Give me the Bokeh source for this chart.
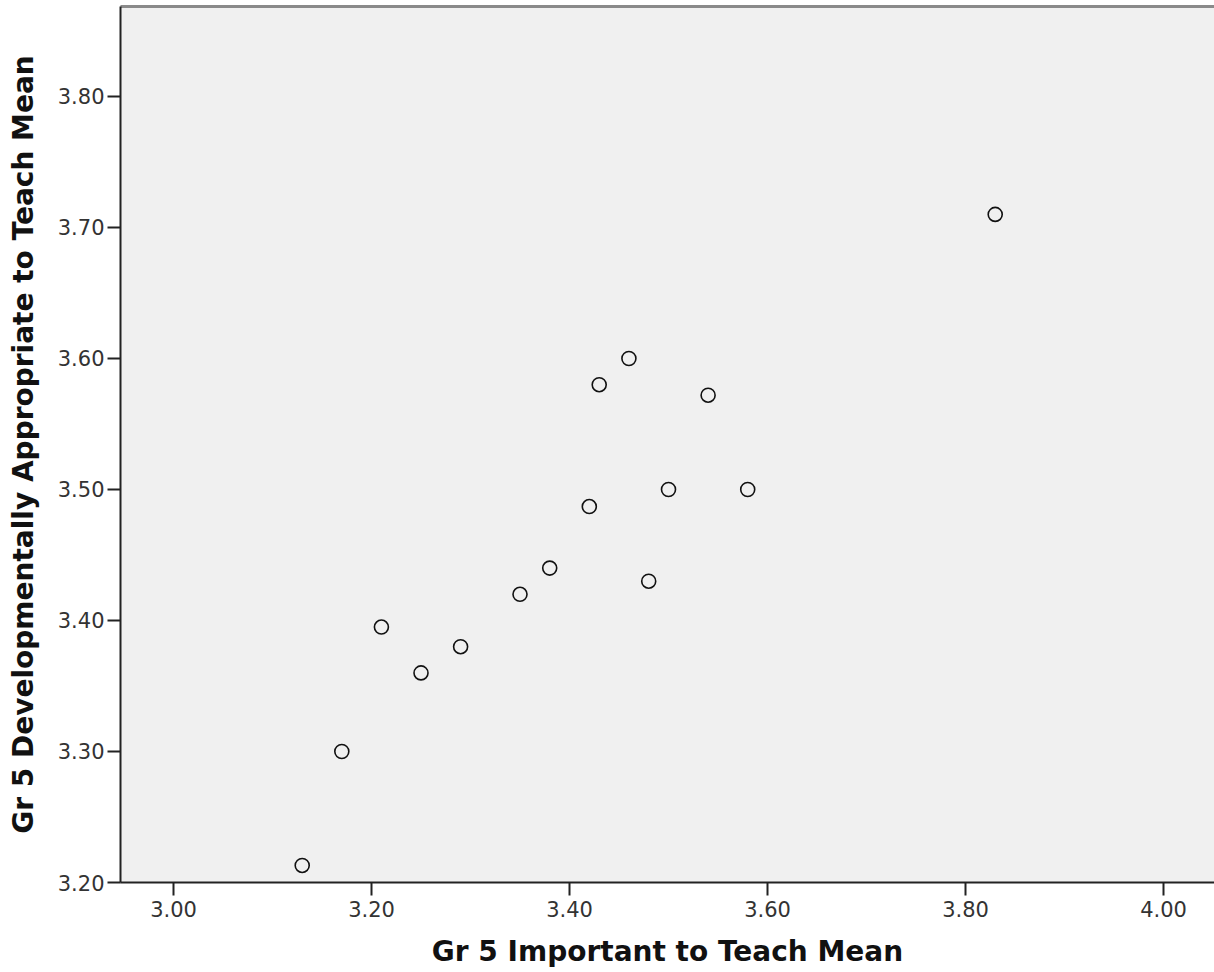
from bokeh.plotting import figure
from bokeh.models import FixedTicker, NumeralTickFormatter, LinearAxis, Range1d, ColumnDataSource
from bokeh.embed import file_html
from bokeh.resources import INLINE

# Data
important_mean = [3.13, 3.17, 3.21, 3.25, 3.29, 3.35, 3.38, 3.42, 3.43, 3.46, 3.48, 3.50, 3.54, 3.58, 3.83]
appropriate_mean = [3.213, 3.30, 3.395, 3.36, 3.38, 3.42, 3.44, 3.487, 3.58, 3.60, 3.43, 3.50, 3.572, 3.50, 3.71]
x_ticks = [3.00, 3.20, 3.40, 3.60, 3.80, 4.00]
y_ticks = [3.20, 3.30, 3.40, 3.50, 3.60, 3.70, 3.80]
x_title = "Gr 5 Important to Teach Mean"
y_title = "Gr 5 Developmentally Appropriate to Teach Mean"

src = ColumnDataSource(dict(x=important_mean, y=appropriate_mean))

p = figure(frame_width=1094, frame_height=876,
           x_range=Range1d(2.94646, 4.0515), y_range=Range1d(3.20, 3.8687),
           output_backend="svg", toolbar_location=None,
           min_border_left=120, min_border_right=0, min_border_top=6, min_border_bottom=0)

p.background_fill_color = "#f0f0f0"
p.border_fill_color = "white"
p.outline_line_color = None
p.grid.visible = False

p.scatter("x", "y", source=src, marker="circle", size=14,
          fill_color=None, line_color="#111111", line_width=1.6)

for ax, ticks, title in ((p.xaxis[0], x_ticks, x_title), (p.yaxis[0], y_ticks, y_title)):
    ax.ticker = FixedTicker(ticks=ticks)
    ax.formatter = NumeralTickFormatter(format="0.00")
    ax.minor_tick_line_color = None
    ax.major_tick_in = 0
    ax.major_tick_out = 13
    ax.major_tick_line_width = 2
    ax.major_tick_line_color = "#222222"
    ax.axis_line_width = 2
    ax.axis_line_color = "#222222"
    ax.major_label_text_font = "DejaVu Sans"
    ax.major_label_text_font_size = "21px"
    ax.major_label_text_color = "#333333"
    ax.axis_label = title
    ax.axis_label_text_font = "DejaVu Sans"
    ax.axis_label_text_font_style = "bold"
    ax.axis_label_text_font_size = "28px"
    ax.axis_label_text_color = "#111111"

p.xaxis[0].major_label_standoff = 5
p.xaxis[0].axis_label_standoff = 15
p.yaxis[0].major_label_standoff = 3
p.yaxis[0].axis_label_standoff = 15

top = LinearAxis(ticker=FixedTicker(ticks=[]), axis_line_color="#8a8a8a", axis_line_width=3,
                 major_tick_line_color=None, minor_tick_line_color=None,
                 major_label_text_font_size="0px")
p.add_layout(top, "above")

open("out.html", "w").write(file_html(p, INLINE))
